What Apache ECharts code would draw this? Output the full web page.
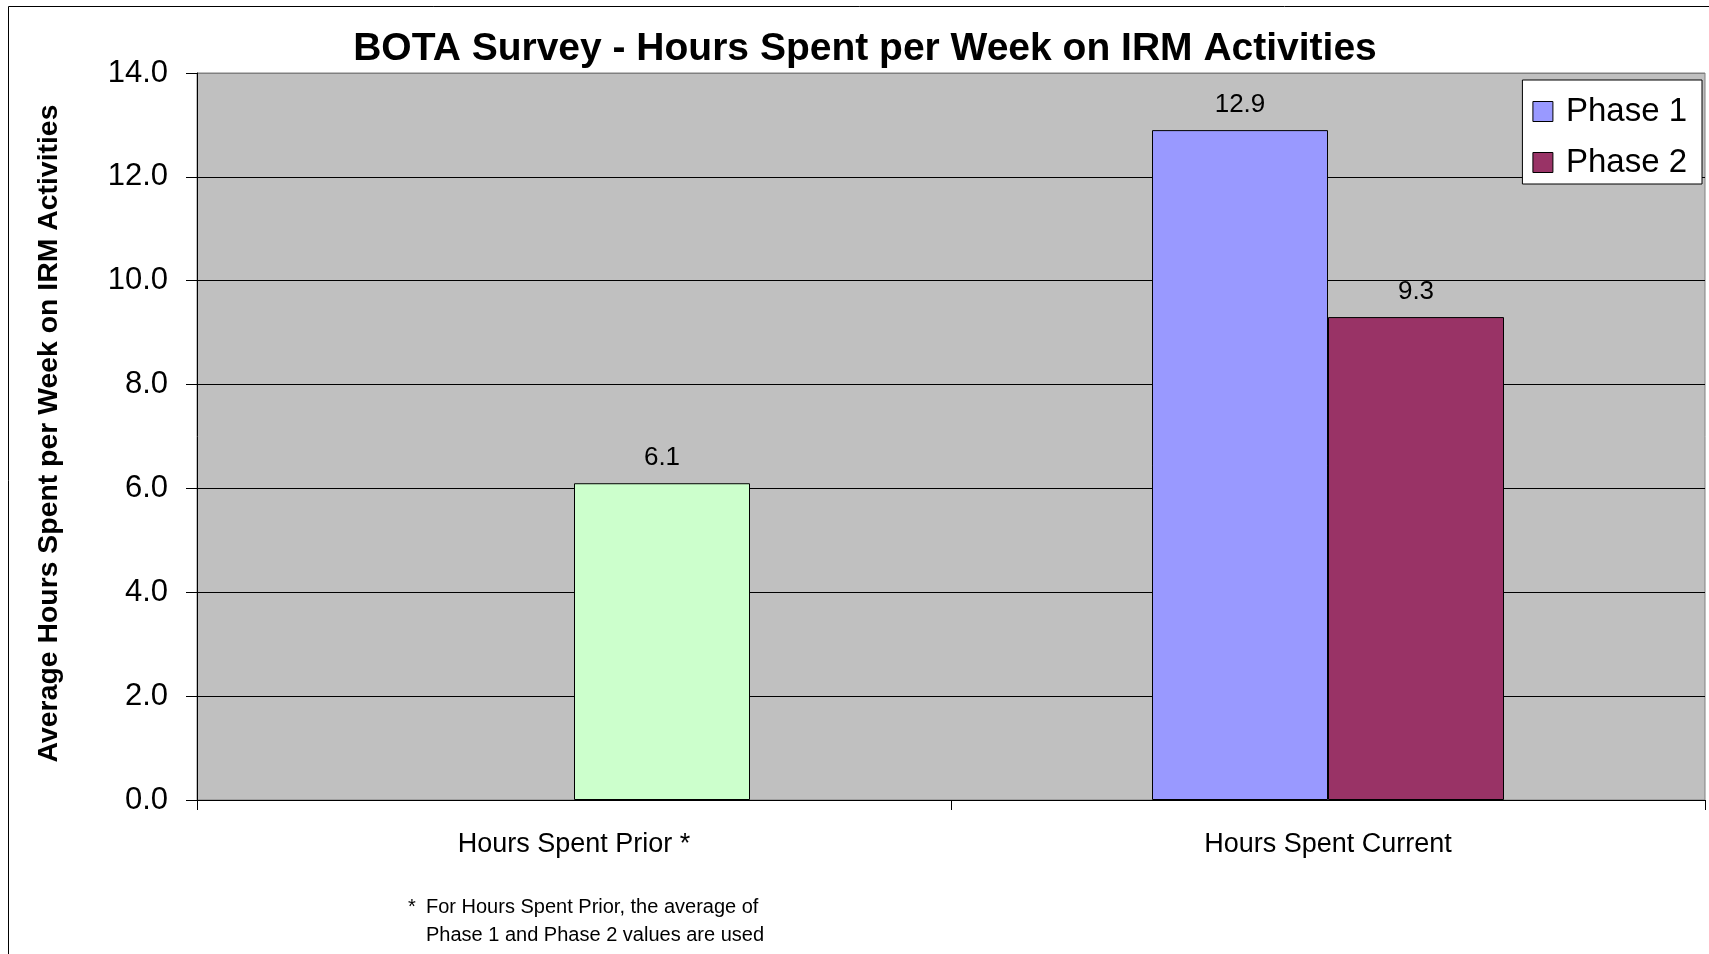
<!DOCTYPE html>
<html><head><meta charset="utf-8">
<script src="https://cdn.jsdelivr.net/npm/echarts@6/dist/echarts.min.js"></script>
<style>html,body{margin:0;padding:0;background:#fff}#c{width:1709px;height:954px}</style>
</head><body><div id="c"></div>
<script>
const categories = ['Hours Spent Prior *', 'Hours Spent Current'];
const seriesNames = ['Phase 1', 'Phase 2'];
const phase1 = [null, 12.9];
const phase2 = [6.1, 9.3];
const yMin = 0, yMax = 14, yStep = 2;
const titleText = 'BOTA Survey - Hours Spent per Week on IRM Activities';
const yAxisTitle = 'Average Hours Spent per Week on IRM Activities';
const footnoteMark = '*';
const footnoteLines = ['For Hours Spent Prior, the average of', 'Phase 1 and Phase 2 values are used'];

const FONT = '"Liberation Sans", Arial, Helvetica, sans-serif';
const chart = echarts.init(document.getElementById('c'), null, {renderer: 'canvas'});

const labelCfg = {
  show: true, position: 'top', distance: 12,
  color: '#000', fontFamily: FONT, fontSize: 26,
  formatter: p => (p.value == null ? '' : Number(p.value).toFixed(1))
};

chart.setOption({
  animation: false,
  backgroundColor: '#fff',
  title: {
    text: titleText, left: 865, top: 30, textAlign: 'center', padding: 0,
    textStyle: {fontFamily: FONT, fontWeight: 'bold', fontSize: 39, color: '#000'}
  },
  legend: {
    data: seriesNames, orient: 'vertical', right: 7, top: 80,
    backgroundColor: '#fff', borderColor: '#000', borderWidth: 1,
    padding: [15, 15, 5, 10], itemGap: 18, itemWidth: 20, itemHeight: 20,
    icon: 'rect', itemStyle: {borderColor: '#000', borderWidth: 1},
    textStyle: {fontFamily: FONT, fontSize: 33, color: '#000', padding: [0, 0, 0, 8]}
  },
  grid: {
    left: 197, right: 4, top: 73, bottom: 154, show: true,
    backgroundColor: '#C0C0C0', borderColor: '#808080', borderWidth: 1
  },
  xAxis: {
    type: 'category', data: categories,
    axisLine: {lineStyle: {color: '#000', width: 1}},
    axisTick: {show: true, length: 10, inside: false, lineStyle: {color: '#000'}},
    axisLabel: {fontFamily: FONT, fontSize: 27, color: '#000', margin: 31},
    splitLine: {show: false}
  },
  yAxis: {
    type: 'value', min: yMin, max: yMax, interval: yStep,
    name: yAxisTitle, nameLocation: 'middle', nameGap: 134,
    nameTextStyle: {fontFamily: FONT, fontWeight: 'bold', fontSize: 28.4, color: '#000', padding: [0, 0, 0, 6]},
    axisLine: {show: true, lineStyle: {color: '#000', width: 1}},
    axisTick: {show: true, length: 11, inside: false, lineStyle: {color: '#000'}},
    axisLabel: {fontFamily: FONT, fontSize: 31, color: '#000', margin: 29,
      formatter: v => v.toFixed(1)},
    splitLine: {show: true, lineStyle: {width: 1,
      color: ['#000', '#000', '#000', '#000', '#000', '#000', '#000', '#808080']}}
  },
  series: [
    {
      name: seriesNames[0], type: 'bar', data: phase1,
      barWidth: 176, barGap: '0%',
      itemStyle: {color: '#9999FF', borderColor: '#000', borderWidth: 1},
      label: labelCfg
    },
    {
      name: seriesNames[1], type: 'bar',
      data: phase2.map((v, i) => i === 0 ? {value: v, itemStyle: {color: '#CCFFCC'}} : v),
      barWidth: 176, barGap: '0%',
      itemStyle: {color: '#993366', borderColor: '#000', borderWidth: 1},
      label: labelCfg
    }
  ],
  graphic: [
    {type: 'rect', silent: true, z: -1,
      shape: {x: 8.5, y: 6.5, width: 1720, height: 970},
      style: {fill: null, stroke: '#000', lineWidth: 1}},
    {type: 'text', x: 408, y: 907, silent: true,
      style: {text: footnoteMark, font: '20px ' + FONT, fill: '#000', verticalAlign: 'middle', align: 'left'}},
    {type: 'text', x: 426, y: 907, silent: true,
      style: {text: footnoteLines[0], font: '20px ' + FONT, fill: '#000', verticalAlign: 'middle', align: 'left'}},
    {type: 'text', x: 426, y: 935, silent: true,
      style: {text: footnoteLines[1], font: '20px ' + FONT, fill: '#000', verticalAlign: 'middle', align: 'left'}}
  ]
});
</script></body></html>
